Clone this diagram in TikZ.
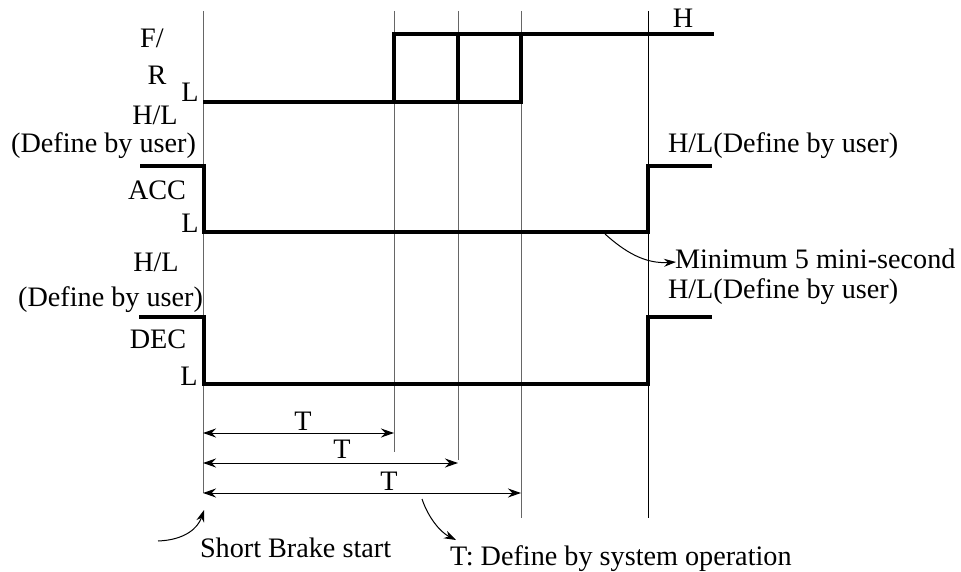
\documentclass[tikz,border=0pt]{standalone}
\usepackage{fontspec}
\setmainfont{Liberation Serif}
\usetikzlibrary{arrows.meta}
\begin{document}
\begin{tikzpicture}[x=1pt,y=-1pt,
  sig/.style={line width=3.4pt,line cap=rect,line join=miter},
  guide/.style={line width=1pt,black!60},
  guideb/.style={line width=0.9pt,black},
  lbl/.style={font=\fontsize{28.2}{30}\selectfont,inner sep=0pt,outer sep=0pt},
  dim/.style={line width=1pt,{Stealth[length=13pt,width=9pt]}-{Stealth[length=13pt,width=9pt]}},
  callout/.style={line width=1pt,-{Stealth[length=12pt,width=8pt]}}]
\useasboundingbox (0,0) rectangle (961,572);
% guide lines
\coordinate (g1t) at (203,11); \coordinate (g1b) at (203,493);
\coordinate (g2t) at (394,11); \coordinate (g2b) at (394,452);
\coordinate (g3t) at (458,11); \coordinate (g3b) at (458,460);
\coordinate (g4t) at (521,11); \coordinate (g4b) at (521,518);
\coordinate (g5t) at (648,11); \coordinate (g5b) at (648,518);
\draw[guide] (g1t) -- (g1b);
\draw[guide] (g2t) -- (g2b);
\draw[guide] (g3t) -- (g3b);
\draw[guide] (g4t) -- (g4b);
\draw[guideb] (g5t) -- (g5b);
% F/R
\coordinate (fl0) at (205,102); \coordinate (fl1) at (521,102);
\coordinate (fh0) at (394,34); \coordinate (fh1) at (712,34);
\draw[sig] (fl0) -- (fl1) -- (fl1 |- fh0);
\draw[sig] (394,102) -- (fh0) -- (fh1);
\draw[sig] (458,102) -- (458,34);
% ACC
\coordinate (a0) at (140,166); \coordinate (a1) at (204,166);
\coordinate (a2) at (204,232); \coordinate (a3) at (648,232);
\coordinate (a4) at (648,166); \coordinate (a5) at (712,166);
\draw[sig,line cap=butt] (a0) -- (a1) -- (a2) -- (a3) -- (a4) -- (a5);
% DEC
\coordinate (d0) at (139,317); \coordinate (d1) at (204,317);
\coordinate (d2) at (204,384); \coordinate (d3) at (648,384);
\coordinate (d4) at (648,317); \coordinate (d5) at (712,317);
\draw[sig,line cap=butt] (d0) -- (d1) -- (d2) -- (d3) -- (d4) -- (d5);
% left labels
\node[lbl,anchor=base] (tF) at (152,48) {F/};
\node[lbl,anchor=base] (tR) at (157,85) {R};
\node[lbl,anchor=base] (tL1) at (190,102) {L};
\node[lbl,anchor=base] (tHL1) at (155,125) {H/L};
\node[lbl,anchor=base east] (tD1) at (196,153) {(Define by user)};
\node[lbl,anchor=base] (tACC) at (157,200) {ACC};
\node[lbl,anchor=base] (tL2) at (190,233) {L};
\node[lbl,anchor=base] (tHL2) at (156,271) {H/L};
\node[lbl,anchor=base east] (tD2) at (203,306) {(Define by user)};
\node[lbl,anchor=base] (tDEC) at (158,348) {DEC};
\node[lbl,anchor=base] (tL3) at (189,385) {L};
% right labels
\node[lbl,anchor=base] (tH) at (683,28) {H};
\node[lbl,anchor=base west] (tR1) at (668,153) {H/L(Define by user)};
\node[lbl,anchor=base west] (tMin) at (675,269) {Minimum 5 mini-second};
\node[lbl,anchor=base west] (tR2) at (668,298) {H/L(Define by user)};
\coordinate (m0) at (605,234);
\coordinate (m1) at (676,262);
\draw[callout] (m0) .. controls (625,252) and (645,264) .. (m1);
% T dimensions
\coordinate (t1a) at (203,433); \coordinate (t1b) at (394,433);
\coordinate (t2a) at (203,463); \coordinate (t2b) at (458,463);
\coordinate (t3a) at (203,493); \coordinate (t3b) at (521,493);
\draw[dim] (t1a) -- (t1b);
\draw[dim] (t2a) -- (t2b);
\draw[dim] (t3a) -- (t3b);
\node[lbl,anchor=base] (T1) at (303,430) {T};
\node[lbl,anchor=base] (T2) at (342,458) {T};
\node[lbl,anchor=base] (T3) at (389,490) {T};
% bottom notes
\node[lbl,anchor=base west] (tSB) at (200,557) {Short Brake start};
\node[lbl,anchor=base west] (tTD) at (450,565) {T: Define by system operation};
\coordinate (s0) at (158,541); \coordinate (s1) at (204,510);
\draw[callout] (s0) .. controls (185,540) and (198,528) .. (s1);
\coordinate (u0) at (422,499); \coordinate (u1) at (456,540);
\draw[callout] (u0) .. controls (428,517) and (440,532) .. (u1);
\end{tikzpicture}
\end{document}
